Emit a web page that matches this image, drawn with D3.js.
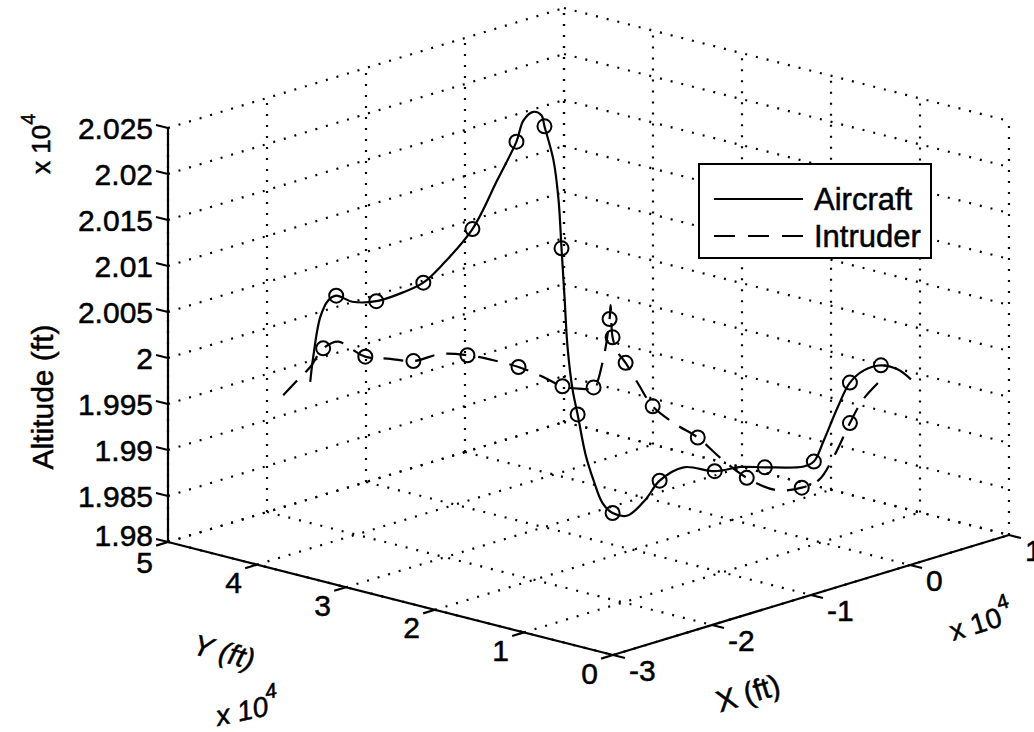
<!DOCTYPE html>
<html>
<head>
<meta charset="utf-8">
<script src="https://cdnjs.cloudflare.com/ajax/libs/d3/7.8.5/d3.min.js"></script>
<style>
body { margin: 0; background: #fff; }
svg { display: block; font-family: "Liberation Sans", Arial, sans-serif; }
</style>
</head>
<body>
<svg id="chart" width="1034" height="732"></svg>
<script>
// axis ticks (ft)
var xTicks = [-30000, -20000, -10000, 0, 10000];
var yTicks = [0, 10000, 20000, 30000, 40000, 50000];
var zTicks = [19800, 19850, 19900, 19950, 20000, 20050, 20100, 20150, 20200, 20250];

// aircraft track (ft)
var aircraftX = [-21090, -20940, -20590, -20190, -19790, -18980, -17780, -16420, -15420, -14470,
  -12960, -11710, -10760, -10400, -9900, -9500, -9350, -8900, -8650, -8500,
  -8350, -8200, -7940, -7690, -7290, -6890, -6440, -5940, -5190, -4280,
  -3580, -2380, -820, 480, 1690, 3640, 4150, 4650, 5350, 5950,
  6650, 7510, 8360, 9010];
var aircraftY = [43930, 43760, 43360, 42910, 42460, 41550, 40190, 38660, 37530, 36450,
  34750, 33330, 32250, 31860, 31290, 30840, 30670, 30160, 29870, 29700,
  29530, 29360, 29080, 28790, 28340, 27890, 27380, 26810, 25960, 24940,
  24150, 22780, 21030, 19550, 18190, 15980, 15420, 14850, 14050, 13370,
  12580, 11620, 10650, 9920];
var aircraftZ = [19960, 19987, 20030, 20048, 20053, 20046, 20046, 20055, 20065, 20084,
  20122, 20175, 20216, 20239, 20248, 20244, 20232, 20195, 20152, 20099,
  20046, 19992, 19945, 19918, 19874, 19846, 19821, 19810, 19807, 19824,
  19844, 19858, 19853, 19857, 19856, 19856, 19861, 19884, 19920, 19946,
  19959, 19964, 19959, 19948];
var aircraftMarks = [4, 6, 8, 10, 12, 16, 19, 23, 27, 30, 32, 34, 36, 39, 41];

// intruder track (ft)
var intruderX = [-22440, -21690, -21090, -20440, -19690, -18980, -18330, -17080, -15920, -14570,
  -13210, -11910, -10650, -9550, -8450, -7640, -6890, -6440, -6090, -6040,
  -5940, -5690, -5290, -4630, -3930, -2780, -1670, -520, 780, 2240,
  3540, 4400, 5100, 5950, 6600, 7510];
var intruderY = [45460, 44610, 43930, 43200, 42340, 41550, 40810, 39400, 38090, 36560,
  35030, 33560, 32140, 30890, 29650, 28740, 27890, 27380, 26980, 26920,
  26810, 26530, 26070, 25340, 24540, 23240, 21990, 20690, 19210, 17570,
  16100, 15130, 14340, 13370, 12640, 11620];
var intruderZ = [19946, 19963, 19976, 19996, 20003, 19994, 19986, 19983, 19980, 19987,
  19985, 19979, 19971, 19961, 19949, 19946, 19947, 19974, 20021, 20036,
  20001, 19985, 19973, 19949, 19925, 19905, 19890, 19867, 19845, 19831,
  19833, 19841, 19864, 19902, 19927, 19948];
var intruderMarks = [3, 6, 8, 10, 12, 14, 16, 18, 20, 22, 24, 26, 28, 30, 33];

var svg = d3.select("#chart");

// box edges projected on screen: x runs to the back right, y to the front, z up
var xs = d3.scaleLinear().domain([-30000, 10000]).range([0, 1]);
var ys = d3.scaleLinear().domain([50000, 0]).range([0, 1]);
var zs = d3.scaleLinear().domain([19800, 20250]).range([0, 1]);
var origin = [168, 542];

function proj(x, y, z) {
  var a = xs(x), b = ys(y), c = zs(z);
  return [origin[0] + 396 * a + 445 * b, origin[1] - 120 * a + 113 * b - 414 * c];
}

function seg(g, p, q) {
  var a = proj(p[0], p[1], p[2]), b = proj(q[0], q[1], q[2]);
  return g.append("line")
      .attr("x1", a[0]).attr("y1", a[1])
      .attr("x2", b[0]).attr("y2", b[1]);
}

var xmin = -30000, xmax = 10000, ymin = 0, ymax = 50000, zmin = 19800, zmax = 20250;

// dotted grid on the back walls and floor
var grid = svg.append("g")
    .attr("stroke", "#000")
    .attr("stroke-width", 2.2)
    .attr("stroke-dasharray", "2,9");

zTicks.forEach(function(z) {
  seg(grid, [xmin, ymax, z], [xmax, ymax, z]);
  seg(grid, [xmax, ymax, z], [xmax, ymin, z]);
});
xTicks.forEach(function(x) {
  seg(grid, [x, ymax, zmin], [x, ymax, zmax]);
  seg(grid, [x, ymax, zmin], [x, ymin, zmin]);
});
yTicks.forEach(function(y) {
  seg(grid, [xmax, y, zmin], [xmax, y, zmax]);
  seg(grid, [xmin, y, zmin], [xmax, y, zmin]);
});

// solid axes and ticks
var axes = svg.append("g")
    .attr("stroke", "#000")
    .attr("stroke-width", 2.2);
seg(axes, [xmin, ymax, zmin], [xmin, ymax, zmax]);
seg(axes, [xmin, ymax, zmin], [xmin, ymin, zmin]);
seg(axes, [xmin, ymin, zmin], [xmax, ymin, zmin]);

zTicks.forEach(function(z) { seg(axes, [xmin, ymax, z], [xmin, ymax + 1350, z]); });
yTicks.forEach(function(y) { seg(axes, [xmin, y, zmin], [xmin - 1200, y, zmin]); });
xTicks.forEach(function(x) { seg(axes, [x, ymin, zmin], [x, ymin - 1350, zmin]); });

var fmt = function(v) { return String(+(v / 1e4).toFixed(3)); };

var labels = svg.append("g")
    .attr("font-size", 30)
    .attr("fill", "#000")
    .attr("stroke", "#000")
    .attr("stroke-width", 0.5);

zTicks.forEach(function(z) {
  var p = proj(xmin, ymax, z);
  labels.append("text")
      .attr("x", p[0] - 15).attr("y", p[1] + (z === zmin ? -7 : 0))
      .attr("text-anchor", "end")
      .attr("dominant-baseline", "central")
      .text(fmt(z));
});
yTicks.forEach(function(y) {
  var p = proj(xmin, y, zmin);
  labels.append("text")
      .attr("x", p[0] - 15).attr("y", p[1] + (y === ymax ? 20 : 18))
      .attr("text-anchor", "end")
      .attr("dominant-baseline", "central")
      .text(fmt(y));
});
xTicks.forEach(function(x) {
  var p = proj(x, ymin, zmin);
  labels.append("text")
      .attr("x", p[0] + 16).attr("y", p[1] + 15)
      .attr("text-anchor", "start")
      .attr("dominant-baseline", "central")
      .text(fmt(x));
});

// axis titles and exponent notes
labels.append("text")
    .attr("transform", "translate(53,397) rotate(-90)")
    .attr("text-anchor", "middle")
    .text("Altitude (ft)");

var zExp = labels.append("text")
    .attr("transform", "translate(50,174) rotate(-90)")
    .attr("font-size", 26);
zExp.append("tspan").text("x 10");
zExp.append("tspan").attr("dy", -15).attr("font-size", 20).text("4");

labels.append("text")
    .attr("transform", "translate(224,652) rotate(15)")
    .attr("text-anchor", "middle")
    .attr("dominant-baseline", "central")
    .attr("font-style", "italic")
    .attr("font-size", 29)
    .text("Y (ft)");

var yExp = labels.append("text")
    .attr("transform", "translate(218,726) rotate(-12)")
    .attr("font-style", "italic")
    .attr("font-size", 28);
yExp.append("tspan").text("x 10");
yExp.append("tspan").attr("dy", -16).attr("font-size", 21).text("4");

labels.append("text")
    .attr("transform", "translate(748,693) rotate(-17)")
    .attr("text-anchor", "middle")
    .attr("dominant-baseline", "central")
    .attr("font-size", 30)
    .text("X (ft)");

var xExp = labels.append("text")
    .attr("transform", "translate(953,641) rotate(-17)")
    .attr("font-size", 28);
xExp.append("tspan").text("x 10");
xExp.append("tspan").attr("dy", -16).attr("font-size", 21).text("4");

// tracks
function track(X, Y, Z) {
  return X.map(function(d, i) { return proj(X[i], Y[i], Z[i]); });
}

var line = d3.line().curve(d3.curveCatmullRom.alpha(0.5));

var aircraftPts = track(aircraftX, aircraftY, aircraftZ);
var intruderPts = track(intruderX, intruderY, intruderZ);

svg.append("path")
    .attr("d", line(aircraftPts))
    .attr("fill", "none")
    .attr("stroke", "#000")
    .attr("stroke-width", 2.2);

svg.append("path")
    .attr("d", line(intruderPts))
    .attr("fill", "none")
    .attr("stroke", "#000")
    .attr("stroke-width", 2.2)
    .attr("stroke-dasharray", "20,12");

svg.append("g").selectAll("circle")
    .data(aircraftMarks.map(function(i) { return aircraftPts[i]; })
      .concat(intruderMarks.map(function(i) { return intruderPts[i]; })))
  .enter().append("circle")
    .attr("cx", function(d) { return d[0]; })
    .attr("cy", function(d) { return d[1]; })
    .attr("r", 7)
    .attr("fill", "none")
    .attr("stroke", "#000")
    .attr("stroke-width", 2);

// legend
var legend = svg.append("g");
legend.append("rect")
    .attr("x", 699).attr("y", 164)
    .attr("width", 232).attr("height", 94)
    .attr("fill", "#fff")
    .attr("stroke", "#000")
    .attr("stroke-width", 2);

var series = ["Aircraft", "Intruder"];
series.forEach(function(name, i) {
  var yy = 199 + i * 37;
  legend.append("line")
      .attr("x1", 714).attr("x2", 803)
      .attr("y1", yy).attr("y2", yy)
      .attr("stroke", "#000")
      .attr("stroke-width", 2.2)
      .attr("stroke-dasharray", i === 0 ? null : "21,13");
  legend.append("text")
      .attr("x", 814).attr("y", yy)
      .attr("dominant-baseline", "central")
      .attr("font-size", 31)
      .attr("stroke", "#000")
      .attr("stroke-width", 0.5)
      .text(name);
});
</script>
</body>
</html>
